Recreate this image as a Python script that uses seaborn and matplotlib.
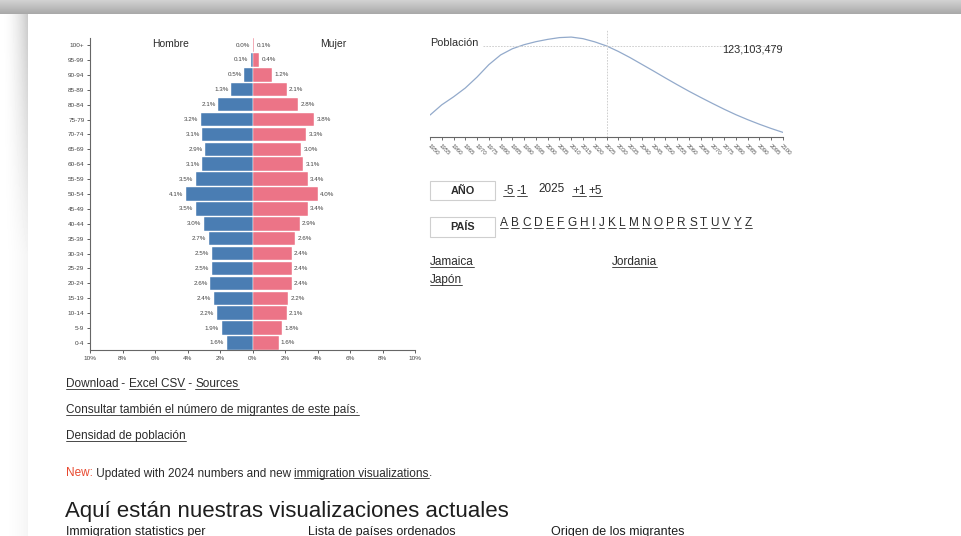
import numpy as np
import pandas as pd
import seaborn as sns
import matplotlib
matplotlib.use("Agg")
import matplotlib.pyplot as plt
from matplotlib.lines import Line2D
from matplotlib.patches import Rectangle

# page size in pixels
W, H = 961, 536

# population pyramid data (share of total population, %)
age_groups = ['100+', '95-99', '90-94', '85-89', '80-84', '75-79', '70-74',
              '65-69', '60-64', '55-59', '50-54', '45-49', '40-44', '35-39',
              '30-34', '25-29', '20-24', '15-19', '10-14', '5-9', '0-4']
male_pct = [0.0, 0.1, 0.5, 1.3, 2.1, 3.2, 3.1, 2.9, 3.1, 3.5, 4.1,
            3.5, 3.0, 2.7, 2.5, 2.5, 2.6, 2.4, 2.2, 1.9, 1.6]
female_pct = [0.1, 0.4, 1.2, 2.1, 2.8, 3.8, 3.3, 3.0, 3.1, 3.4, 4.0,
              3.4, 2.9, 2.6, 2.4, 2.4, 2.4, 2.2, 2.1, 1.8, 1.6]
pct_ticks = [-10, -8, -6, -4, -2, 0, 2, 4, 6, 8, 10]

# total population over time (millions)
years = list(range(1950, 2101, 5))
population_m = [84.0, 89.8, 94.3, 99.3, 105.5, 112.5, 118.0, 121.5, 123.8, 125.5,
                126.8, 127.8, 128.1, 127.2, 125.4, 123.1, 120.0, 116.5, 112.7, 108.9,
                105.0, 101.2, 97.5, 94.0, 90.6, 87.3, 84.2, 81.4, 78.8, 76.4, 74.2]
current_year = 2025
current_pop = 123103479

letters = ['A', 'B', 'C', 'D', 'E', 'F', 'G', 'H', 'I', 'J', 'K', 'L',
           'M', 'N', 'O', 'P', 'R', 'S', 'T', 'U', 'V', 'Y', 'Z']
countries = ['Jamaica', 'Jordania', 'Japón']
cards = ['Immigration statistics per', 'Lista de países ordenados', 'Origen de los migrantes']

MALE = '#4a7db3'
FEMALE = '#ec7487'
TXT = '#2b2b2b'
FONT = ['Liberation Sans', 'DejaVu Sans']
SMALL = 8.5

sns.set_style('white')
plt.rcParams['font.family'] = FONT

fig = plt.figure(figsize=(W / 100, H / 100), dpi=100)
fig.patch.set_facecolor('white')


def rect(x0, y0, x1, y1):
    # pixel box (top-left origin) -> figure fraction
    return [x0 / W, 1 - y1 / H, (x1 - x0) / W, (y1 - y0) / H]


def fx(x):
    return x / W


def fy(y):
    return 1 - y / H


# background: window shadow around the page
bg = fig.add_axes([0, 0, 1, 1], zorder=-10)
yy, xx = np.mgrid[0:H, 0:W]
img = np.ones((H, W))
top = yy < 14
img[top] = 0.82 - 0.17 * (yy[top] / 14.0)
side = (xx < 28) & (~top)
fade = np.clip(1 - (yy[side] - 14) / 300.0, 0.2, 1)
img[side] = 1 - 0.22 * (xx[side] / 28.0) ** 2 * fade
bg.imshow(img, cmap='gray', vmin=0, vmax=1, aspect='auto', extent=(0, W, H, 0))
bg.axis('off')

# ---------- population pyramid ----------
ax = fig.add_axes(rect(90, 38, 415, 350))
df = pd.DataFrame({'age': age_groups,
                   'male': [-v for v in male_pct],
                   'female': female_pct})
sns.barplot(data=df, y='age', x='male', order=age_groups, color=MALE,
            saturation=1, width=0.9, edgecolor='white', linewidth=0.3, ax=ax)
sns.barplot(data=df, y='age', x='female', order=age_groups, color=FEMALE,
            saturation=1, width=0.9, edgecolor='white', linewidth=0.3, ax=ax)
ax.set_xlim(-10, 10)
ax.set_ylim(20.47, -0.47)
ax.set_xlabel('')
ax.set_ylabel('')
ax.set_xticks(pct_ticks)
ax.set_xticklabels([f"{abs(t)}%" for t in pct_ticks])
ax.tick_params(axis='both', labelsize=4.6, colors='#444', length=2.5, width=0.6,
               pad=1.5, left=True, bottom=True)
for s in ['top', 'right']:
    ax.spines[s].set_visible(False)
for s in ['left', 'bottom']:
    ax.spines[s].set_color('#666')
    ax.spines[s].set_linewidth(0.8)
for i, v in enumerate(male_pct):
    ax.text(-v - 0.15, i, f"{v:.1f}%", ha='right', va='center', fontsize=4.5, color='#444')
for i, v in enumerate(female_pct):
    ax.text(v + 0.15, i, f"{v:.1f}%", ha='left', va='center', fontsize=4.5, color='#444')
fig.text(fx(171), fy(44), 'Hombre', ha='center', va='center', fontsize=7.5, color=TXT)
fig.text(fx(333), fy(44), 'Mujer', ha='center', va='center', fontsize=7.5, color=TXT)

# ---------- population over time ----------
ax2 = fig.add_axes(rect(430, 30, 783, 137))
sns.lineplot(x=years, y=population_m, color='#93aacb', linewidth=0.9, ax=ax2)
ax2.set_xlim(years[0], years[-1])
ax2.set_ylim(71.6, 132.1)
ax2.axvline(current_year, color='#c8c8c8', linewidth=0.6, linestyle=(0, (2, 1.5)))
ax2.axhline(current_pop / 1e6, xmin=0.15, xmax=1, color='#c8c8c8', linewidth=0.6,
            linestyle=(0, (2, 1.5)))
ax2.set_yticks([])
ax2.set_xticks(years)
ax2.set_xticklabels([str(y) for y in years], rotation=-45, ha='left',
                    rotation_mode='anchor', fontsize=4.4, color='#555')
ax2.tick_params(axis='x', length=2.5, width=0.6, colors='#555', pad=2, bottom=True)
for s in ['top', 'right', 'left']:
    ax2.spines[s].set_visible(False)
ax2.spines['bottom'].set_color('#666')
ax2.spines['bottom'].set_linewidth(0.8)
ax2.set_facecolor('none')
fig.text(fx(430), fy(42.5), 'Población', ha='left', va='center', fontsize=7.8, color=TXT)
fig.text(fx(783), fy(49), f"{current_pop:,}", ha='right', va='center', fontsize=7.8, color=TXT)

# ---------- page text ----------
renderer = fig.canvas.get_renderer()


def segments(x, base, parts, size):
    # write text pieces one after another, underlining the links
    for text, link, color in parts:
        t = fig.text(fx(x), fy(base), text, ha='left', va='baseline',
                     fontsize=size, color=color)
        bb = t.get_window_extent(renderer)
        if link:
            fig.add_artist(Line2D([bb.x0 / W, bb.x1 / W],
                                  [(H - base - 1.6) / H] * 2,
                                  color=color, linewidth=0.6))
        x += bb.width
    return x


segments(66, 387, [('Download', True, TXT), (' - ', False, TXT),
                   ('Excel CSV', True, TXT), (' - ', False, TXT),
                   ('Sources', True, TXT)], SMALL)
segments(66, 413.5, [('Consultar también el número de migrantes de este país.', True, TXT)], SMALL)
segments(66, 439.5, [('Densidad de población', True, TXT)], SMALL)
segments(66, 476.5, [('New:', False, '#e8492f'),
                     (' Updated with 2024 numbers and new ', False, TXT),
                     ('immigration visualizations', True, TXT),
                     ('.', False, TXT)], SMALL)
fig.text(fx(65), fy(517.5), 'Aquí están nuestras visualizaciones actuales', ha='left',
         va='baseline', fontsize=16, color='#1e1e1e')
for x, label in zip([66, 308, 551], cards):
    fig.text(fx(x), fy(534.5), label, ha='left', va='baseline', fontsize=9, color='#1e1e1e')

# year / country selectors
for y0, y1, label in [(181, 200, 'AÑO'), (217, 237, 'PAÍS')]:
    fig.add_artist(Rectangle((fx(430), fy(y1)), 65 / W, (y1 - y0) / H,
                             facecolor='white', edgecolor='#cfcfcf', linewidth=0.8))
    fig.text(fx(462.5), fy((y0 + y1) / 2 + 0.5), label, ha='center', va='center',
             fontsize=7.8, fontweight='bold', color=TXT)
segments(503, 194, [('-5', True, TXT), (' ', False, TXT), ('-1', True, TXT)], SMALL)
segments(538, 192.5, [('2025', False, TXT)], SMALL)
segments(572, 194, [('+1', True, TXT), (' ', False, TXT), ('+5', True, TXT)], SMALL)

x = 500
for letter in letters:
    x = segments(x, 226, [(letter, True, TXT)], SMALL)
    x += 3.3

for (x, y), name in zip([(430, 265), (612, 265), (430, 283.5)], countries):
    segments(x, y, [(name, True, TXT)], SMALL)

fig.savefig('out.png', dpi=100)
